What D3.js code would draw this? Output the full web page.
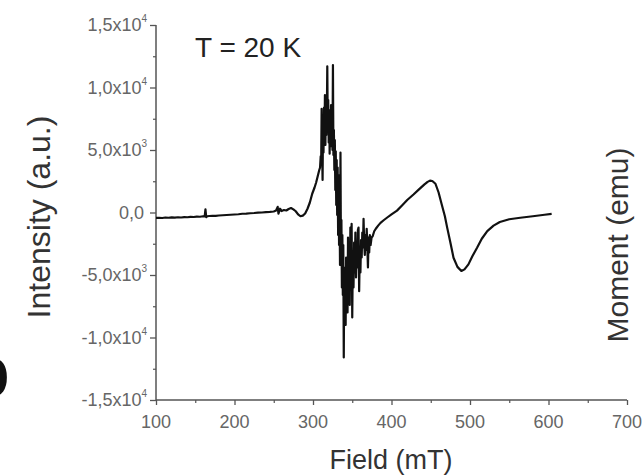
<!DOCTYPE html>
<html>
<head>
<meta charset="utf-8">
<script src="https://cdn.jsdelivr.net/npm/d3@7"></script>
<style>
  body { margin: 0; background: #fff; }
  text { font-family: "Liberation Sans", Arial, sans-serif; }
</style>
</head>
<body>
<svg id="chart" width="644" height="476"></svg>
<script>
// field (mT) and EPR intensity (a.u.)
let field = [
  100, 104, 108, 112, 116, 120, 124, 128, 132, 136, 140, 144, 148, 152, 156, 160, 162, 163, 164, 165,
  168, 172, 176, 180, 185, 190, 195, 200, 205, 210, 215, 220, 225, 230, 235, 240, 245, 250, 253, 255,
  256, 258, 260, 263, 266, 269, 272, 275, 278, 281, 284, 287, 290, 293, 296, 299, 302, 304, 306, 308,
  309.0, 309.8, 310.4, 311.0, 311.6, 312.2, 312.8, 313.4, 314.0, 314.6, 315.2, 315.8, 316.4, 317.0,
  317.6, 318.2, 318.8, 319.4, 320.0, 320.6, 321.2, 321.8, 322.4, 323.0, 323.6, 324.2, 324.8, 325.4,
  326.0, 326.6, 327.2, 327.8, 328.4, 329.0, 329.6, 330.2, 330.8, 331.4, 332.0, 332.6, 333.2, 333.8,
  334.4, 335.0, 335.6, 336.2, 336.8, 337.4, 338.0, 338.6, 339.2, 339.8, 340.4, 341.0, 341.6, 342.2,
  342.8, 343.4, 344.0, 344.6, 345.2, 346.0, 346.8, 347.6, 348.4, 349.2, 350.0, 350.8, 351.6, 352.4,
  353.2, 354.0, 354.8, 355.6, 356.4, 357.2, 358.0, 358.8, 359.6, 360.4, 361.2, 362.0, 362.8, 363.6,
  364.4, 365.2, 366.0, 366.8, 367.6, 368.4, 369.2, 370.0, 370.8, 371.6, 372.4, 373.4, 374.6, 376.0,
  378, 380, 383, 386, 390, 395, 400, 407, 414, 420, 428, 435, 442, 446, 449, 452, 456, 460, 464, 468,
  471, 475, 479, 484, 489, 493, 498, 503, 509, 515, 522, 530, 538, 550, 564, 580, 595, 604
];
let intensity = [
  -430, -420, -440, -400, -420, -390, -410, -380, -400, -370, -380, -350, -360, -330, -340, -300, -320, 250, -380, -300,
  -280, -260, -270, -240, -220, -200, -180, -160, -140, -100, -90, -60, -40, -10, 0, 30, 50, 80, 160, 450,
  -100, 300, 120, 200, 160, 280, 360, 250, 100, -150, -300, -250, -80, 300, 800, 1500, 2000, 2400, 2900, 3400,
  3600, 4500, 3800, 8300, 5200, 2600, 7400, 4800, 8400, 6000, 9400, 5400, 8800, 6200,
  7600, 11700, 6800, 9000, 5600, 8200, 4700, 7800, 5300, 8600, 6400, 7400, 5000, 11800,
  4600, 6600, 3400, 5800, 1800, 4900, 600, 4200, -200, 3600, -1800, 3000, -2600, 900,
  -4200, 4800, -3400, -600, -6000, -1800, -6600, -2600, -11600, -4400, -7800, -5600, -9000, -3600,
  -7200, -4000, -8000, -2000, -6400, -3000, -7400, -1200, -5800, -900, -8400, -3200, -6000, -2400,
  -4800, -1600, -5200, -2800, -4400, -1400, -1200, -6300, -3000, -4800, -2200, -3600, -1600, -2800,
  -500, -2400, -3400, -1800, -3000, -1300, -2700, -4400, -2000, -3200, -1800, -2600, -2000, -1900,
  -1500, -1300, -1050, -830, -620, -380, -150, 150, 600, 1000, 1440, 1850, 2250, 2450, 2550, 2520, 2300, 1600, 640, -300,
  -1230, -2400, -3620, -4350, -4680, -4550, -4150, -3500, -2820, -2100, -1490, -1050, -760, -540, -420, -300, -180, -110
];

let xTicks = [100, 200, 300, 400, 500, 600, 700];
let xMinor = [150, 250, 350, 450, 550, 650];
let yTicks = [15000, 10000, 5000, 0, -5000, -10000, -15000];
let yMinor = [12500, 7500, 2500, -2500, -7500, -12500];
// mantissa and exponent of each y tick label
let yMant = ["1,5", "1,0", "5,0", "0,0", "-5,0", "-1,0", "-1,5"];
let yExp = ["4", "4", "3", "", "3", "4", "4"];

let svg = d3.select("#chart");

let x = d3.scaleLinear().domain([100, 700]).range([156, 627]);
let y = d3.scaleLinear().domain([-15000, 15000]).range([400, 25]);

let axisCol = "#555";
let labCol = "#666";

// axes
svg.append("g")
    .attr("transform", "translate(0,400)")
    .call(d3.axisBottom(x).tickValues(xTicks).tickSize(5).tickFormat(""))
    .call(g => g.select(".domain").attr("stroke", axisCol).attr("stroke-width", 1.5).attr("d", "M156,0H627"))
    .call(g => g.selectAll(".tick line").attr("stroke", axisCol).attr("stroke-width", 1.3));

svg.append("g")
    .attr("transform", "translate(0,400)")
    .call(d3.axisBottom(x).tickValues(xMinor).tickSize(3).tickFormat(""))
    .call(g => g.select(".domain").remove())
    .call(g => g.selectAll(".tick line").attr("stroke", axisCol).attr("stroke-width", 1.2));

svg.append("g")
    .attr("transform", "translate(156,0)")
    .call(d3.axisLeft(y).tickValues(yTicks).tickSize(6).tickFormat(""))
    .call(g => g.select(".domain").attr("stroke", axisCol).attr("stroke-width", 1.5).attr("d", "M0,25V400"))
    .call(g => g.selectAll(".tick line").attr("stroke", axisCol).attr("stroke-width", 1.3));

svg.append("g")
    .attr("transform", "translate(156,0)")
    .call(d3.axisLeft(y).tickValues(yMinor).tickSize(3).tickFormat(""))
    .call(g => g.select(".domain").remove())
    .call(g => g.selectAll(".tick line").attr("stroke", axisCol).attr("stroke-width", 1.2));

// tick labels
svg.selectAll(".xlab").data(xTicks).enter().append("text")
    .attr("class", "xlab")
    .attr("x", d => x(d))
    .attr("y", 428)
    .attr("text-anchor", "middle")
    .attr("font-size", 18)
    .attr("fill", labCol)
    .text(d => d);

yTicks.forEach(function(d, i) {
  let t = svg.append("text")
      .attr("x", yExp[i] ? 147 : 144)
      .attr("y", y(d) + 6)
      .attr("text-anchor", "end")
      .attr("font-size", 18)
      .attr("fill", labCol);
  if (yExp[i]) {
    t.append("tspan").text(yMant[i] + "x10");
    t.append("tspan").attr("font-size", 10).attr("dy", -9).text(yExp[i]);
  } else {
    t.text(yMant[i]);
  }
});

// spectrum
let pts = field.map((f, i) => [f, intensity[i]]);
svg.append("path")
    .datum(pts)
    .attr("fill", "none")
    .attr("stroke", "#111")
    .attr("stroke-width", 2.2)
    .attr("stroke-linejoin", "round")
    .attr("d", d3.line().x(d => x(d[0])).y(d => y(d[1])));

// titles
svg.append("text")
    .attr("x", 391).attr("y", 469)
    .attr("text-anchor", "middle")
    .attr("font-size", 27)
    .attr("fill", "#333")
    .text("Field (mT)");

svg.append("text")
    .attr("transform", "translate(50,217) rotate(-90)")
    .attr("text-anchor", "middle")
    .attr("font-size", 32)
    .attr("fill", "#333")
    .text("Intensity (a.u.)");

svg.append("text")
    .attr("transform", "translate(628,245) rotate(-90)")
    .attr("text-anchor", "middle")
    .attr("font-size", 30)
    .attr("fill", "#333")
    .text("Moment (emu)");

svg.append("text")
    .attr("x", 195).attr("y", 57)
    .attr("font-size", 28)
    .attr("fill", "#222")
    .text("T = 20 K");

// cut-off panel letter at the left edge
svg.append("text")
    .attr("x", -33).attr("y", 396)
    .attr("font-size", 70)
    .attr("font-weight", "bold")
    .attr("fill", "#111")
    .text("b");
</script>
</body>
</html>
